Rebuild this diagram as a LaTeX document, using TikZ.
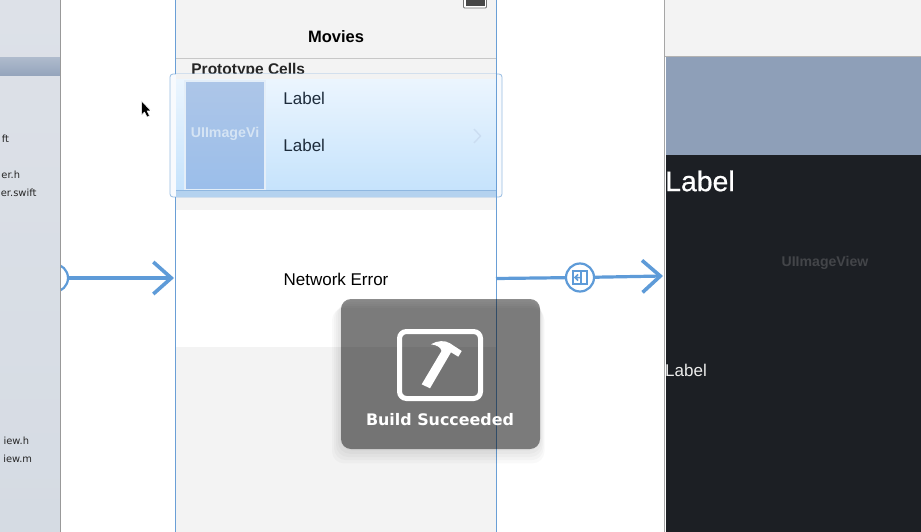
\documentclass[tikz,border=0pt]{standalone}
\usepackage{fontspec}
\setmainfont{Liberation Sans}
\newfontfamily\hudfont{DejaVu Sans}
\newfontfamily\heavyfont[FakeBold=0.6]{Liberation Sans}
\usetikzlibrary{positioning,arrows.meta}
\definecolor{paneGray}{HTML}{DDE1E8}
\definecolor{paneLow}{HTML}{D5DBE3}
\definecolor{sceneGray}{HTML}{F3F3F3}
\definecolor{segueBlue}{HTML}{5E9BD8}
\definecolor{edgeBlue}{HTML}{6A9FD6}
\definecolor{navSlate}{HTML}{8E9FB8}
\definecolor{darkView}{HTML}{1C1F24}
\definecolor{cellText}{HTML}{1E2C3C}
\definecolor{cellTop}{HTML}{EBF5FE}
\definecolor{cellLow}{HTML}{C6E3FC}
\definecolor{cellBand}{HTML}{B4D2EF}
\definecolor{imageTop}{HTML}{ADC6E8}
\definecolor{imageLow}{HTML}{9BBEEA}
\begin{document}
\begin{tikzpicture}[x=1pt, y=-1pt, thick,
  >={Straight Barb[length=18pt,width=32pt,line width=3.6pt]},
  segue/.style = {draw=segueBlue, line width=3.2pt},
  badge/.style = {draw=segueBlue, circle, line width=2.2pt, fill=white, minimum size=28pt, inner sep=0pt},
  plain/.style = {inner sep=0pt, font=\fontsize{17}{19}\selectfont},
  file/.style = {inner sep=0pt, text=black!85, font=\hudfont\fontsize{9.9}{13}\selectfont}]
\useasboundingbox (0,0) rectangle (921,532);
\fill[white] (0,0) rectangle (921,532);

% scene
\fill[sceneGray] (175.5,0) rectangle (496,210);
\fill[sceneGray] (175.5,347) rectangle (496,532);
\draw[black!22, line width=1pt] (175.5,58.5) -- (496,58.5);
\node[plain, font=\bfseries\fontsize{16.5}{18}\selectfont] (title) at (336,36.5) {Movies};
\node[plain, anchor=base west, text=black!85, font=\bfseries\fontsize{15.5}{18}\selectfont] (proto) at (191,75) {Prototype Cells};
\draw[black!55, fill=white, line width=.8pt, rounded corners=1pt] (463.5,-2) rectangle (486.5,8);
\fill[black!72] (465.5,0) rectangle (485,6);

% selected cell
\draw[draw=edgeBlue!70, fill=white!95!edgeBlue, rounded corners=3pt, line width=.8pt] (170,74) rectangle (502,197);
\fill[black!5] (176,74.5) rectangle (496,80);
\shade[top color=cellTop, bottom color=cellLow] (176,80) rectangle (496,190);
\fill[cellBand] (176,190) rectangle (496,196.5);
\draw[edgeBlue!75, line width=.8pt] (176,190.5) -- (496,190.5);
\shade[draw=white!82!edgeBlue, top color=imageTop, bottom color=imageLow, line width=1.2pt] (185,81) rectangle (265,189.5);
\node[inner sep=0pt, text=white!72!edgeBlue, font=\bfseries\fontsize{14.2}{16}\selectfont] (image) at (225,133.5) {UIImageVi};
\node[plain, anchor=west, text=cellText] (label1) at (283,98.5) {Label};
\node[plain, anchor=west, text=cellText] (label2) at (283,145.5) {Label};
\draw[edgeBlue!35, line width=1.4pt] (474,129) -- (480.5,136) -- (474,143);

\node[plain] (error) at (336,279.5) {Network Error};

% frames
\draw[edgeBlue, line width=.8pt] (175.5,0) -- (175.5,74) (175.5,197) -- (175.5,532);
\draw[edgeBlue, line width=.8pt] (496,0) -- (496,532);

% right panel
\fill[sceneGray] (664,0) rectangle (921,56);
\fill[navSlate] (666,56) rectangle (921,155);
\fill[darkView] (665.5,155) rectangle (921,532);
\draw[black!35, line width=1pt] (664.7,0) -- (664.7,532);
\draw[black!30, line width=.6pt] (665,56) -- (921,56);
\node[inner sep=0pt, anchor=west, text=white, font=\heavyfont\fontsize{28.4}{30}\selectfont] (big) at (664.8,181) {Label};
\node[plain, anchor=west, text=white!92!black] (small) at (664.8,370) {Label};
\node[inner sep=0pt, text=white!17!darkView, font=\bfseries\fontsize{14.1}{16}\selectfont] (view) at (825,262.5) {UIImageView};

% segues
\node[badge] (entry) at (54,278) {};
\coordinate (sceneIn) at (174,278);
\coordinate (sceneOut) at (496,278.5);
\node[badge] (show) at (580,277.5) {};
\coordinate (detailIn) at (663,276);
\draw[segue, ->] (entry) -- (sceneIn);
\draw[segue] (sceneOut) -- (show);
\draw[segue, ->] (show) -- (detailIn);
\draw[segueBlue, line width=2pt] (573.3,270.7) rectangle (586.7,284.3);
\draw[segueBlue, line width=1.4pt] (580.8,270.7) -- (580.8,284.3);
\draw[segueBlue, line width=1.5pt] (580,277.5) -- (575.5,277.5) (578,274.5) -- (575,277.5) -- (578,280.5);

% navigator
\shade[top color=paneGray, bottom color=paneLow] (0,0) rectangle (60,532);
\shade[top color=navSlate!72, bottom color=navSlate!95] (0,58) rectangle (60,76);
\draw[black!40, line width=1pt] (60.5,0) -- (60.5,532);
\node[file, anchor=east] (f1) at (9.5,139) {ft};
\node[file, anchor=east] (f2) at (20.5,175) {er.h};
\node[file, anchor=west] (f3) at (.5,193) {er.swift};
\node[file, anchor=east] (f4) at (29.5,441) {iew.h};
\node[file, anchor=east] (f5) at (32.5,459) {iew.m};

% cursor
\draw[fill=black, draw=white, line width=.5pt, line join=round] (141.5,101) -- (141.5,115) -- (144.5,112) -- (147,117) -- (149.5,116) -- (147,110.8) -- (151,110.8) -- cycle;

% build hud
\foreach \grow in {1,3,5,7,9} {
  \fill[black, opacity=.022, rounded corners=12pt] (341-\grow,299+\grow) rectangle (540+\grow/2,449+\grow*1.6);
}
\fill[black, opacity=.45, rounded corners=10pt] (341,299) rectangle (540,449);
\draw[white, line width=5pt, rounded corners=7pt] (399.5,331.5) rectangle (480.5,398.5);
\fill[white] (431,344.3) .. controls (437,340.5) and (445,340) .. (450,343.3) -- (461.7,351) -- (458.3,356.7) -- (451,352.3) -- (430,388.3) -- (421.7,384.3) -- (441.5,351) .. controls (441,347.5) and (437,345) .. (431,344.3) -- cycle;
\node[inner sep=0pt, text=white, font=\hudfont\bfseries\fontsize{15.9}{17}\selectfont] (done) at (440,420) {Build Succeeded};
\end{tikzpicture}
\end{document}
